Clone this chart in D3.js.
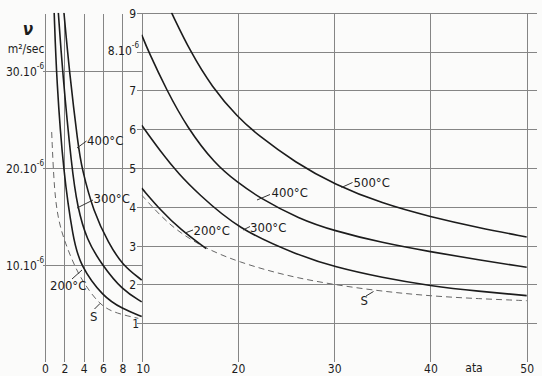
<!DOCTYPE html>
<meta charset="utf-8">
<body style="margin:0">
<style>
  svg { display: block; background: #fbfbfa; }
  .grid { stroke: #858585; stroke-width: 1px; shape-rendering: crispEdges; }
  .curve { fill: none; stroke: #1c1c1c; stroke-width: 1.6px; }
  .sat { fill: none; stroke: #666; stroke-width: 1px; stroke-dasharray: 6,4; }
  .lead { stroke: #333; stroke-width: 1px; }
  text { font-family: "Liberation Sans Narrow", "DejaVu Sans Condensed", "Liberation Sans", sans-serif; fill: #1c1c1c; }
  .tick text { font-size: 12px; }
</style>
<script src="https://d3js.org/d3.v7.min.js"></script>
<script>
// pressure ticks, ata
var leftPress = [0, 2, 4, 6, 8, 10];
var rightPress = [10, 20, 30, 40, 50];
// kinematic viscosity ticks, 10^-6 m2/sec
var leftNu = [10, 20, 30];
var rightNu = [1, 2, 3, 4, 5, 6, 7, 8, 9];

// left panel (0-10 ata), [ata, nu*10^6]
var t200L = [[0.95, 36], [1.2, 29], [1.9, 19.5], [2.93, 12.6], [3.62, 10], [6, 6.7], [8, 5.5], [10, 4.68]];
var t300L = [[1.38, 36], [1.8, 30], [2.76, 20], [3.35, 16], [4.3, 12.6], [5.9, 10], [8, 7.4], [10, 6.2]];
var t400L = [[1.96, 36], [2.51, 30], [3.44, 22.2], [3.8, 20], [5, 15.5], [6.6, 12.2], [8, 10], [10, 8.45]];
var satL = [[0.69, 23.7], [0.96, 17.5], [1.4, 14.5], [2.07, 12.3], [3.1, 9.8], [3.96, 8.2], [5.69, 5.8], [7.41, 5.0], [9.65, 4.5]];

// right panel (10-50 ata)
var t200R = [[10, 4.48], [12, 3.9], [14, 3.42], [16.7, 2.92]];
var t300R = [[10, 6.1], [11.9, 5.44], [14, 4.8], [15.7, 4.38], [20, 3.42], [26.4, 2.74], [30, 2.45], [35, 2.17], [40, 1.96], [45, 1.82], [50, 1.71]];
var t400R = [[10, 8.43], [10.7, 8], [12.6, 7], [14.7, 6.05], [17.6, 5.1], [20, 4.62], [22.1, 4.25], [26.4, 3.68], [30, 3.38], [35, 3.07], [40, 2.84], [45, 2.63], [50, 2.44]];
var t500R = [[13.1, 9], [15, 8.02], [17.3, 7.08], [20, 6.3], [22, 5.86], [26, 5.13], [30, 4.58], [35, 4.08], [40, 3.74], [45, 3.46], [50, 3.22]];
var satR = [[10, 4.3], [12, 3.75], [14, 3.32], [16.7, 2.92], [20, 2.58], [25, 2.22], [30, 1.99], [35, 1.82], [40, 1.7], [45, 1.63], [50, 1.58]];

var width = 542, height = 376;
var svg = d3.select("body").append("svg").attr("width", width).attr("height", height);

// both panels share the zero line; the left one is 4x compressed in nu
var xL = d3.scaleLinear().domain([0, 10]).range([45, 141.7]);
var yL = d3.scaleLinear().domain([0, 36]).range([362, 12.7]);
var xR = d3.scaleLinear().domain([10, 50]).range([141.7, 526.7]);
var yR = d3.scaleLinear().domain([0, 9]).range([362, 12.7]);

// grid
svg.append("g").selectAll("line").data(leftPress).join("line").attr("class", "grid")
  .attr("x1", d => Math.round(xL(d)) + 0.5).attr("x2", d => Math.round(xL(d)) + 0.5)
  .attr("y1", yL(36) + 1).attr("y2", yL(0));
svg.append("g").selectAll("line").data(leftNu).join("line").attr("class", "grid")
  .attr("x1", xL(0) - 2).attr("x2", xL(10))
  .attr("y1", d => Math.round(yL(d)) + 0.5).attr("y2", d => Math.round(yL(d)) + 0.5);
svg.append("g").selectAll("line").data(rightPress).join("line").attr("class", "grid")
  .attr("x1", d => Math.round(xR(d)) + 0.5).attr("x2", d => Math.round(xR(d)) + 0.5)
  .attr("y1", yR(9)).attr("y2", yR(0));
svg.append("g").selectAll("line").data(rightNu).join("line").attr("class", "grid")
  .attr("x1", xR(10) - 5).attr("x2", xR(50) + 10)
  .attr("y1", d => Math.round(yR(d)) + 0.5).attr("y2", d => Math.round(yR(d)) + 0.5);

// bottom axes (labels only)
var axL = svg.append("g").attr("transform", "translate(0," + yL(0) + ")")
  .call(d3.axisBottom(xL).tickValues(leftPress.slice(0, 5)).tickSize(0).tickPadding(2));
var axR = svg.append("g").attr("transform", "translate(0," + yR(0) + ")")
  .call(d3.axisBottom(xR).tickValues(rightPress).tickSize(0).tickPadding(2));
axL.select(".domain").remove();
axR.select(".domain").remove();
axR.selectAll("text").filter(d => d === 10).attr("dx", 1);
svg.append("text").attr("x", 474).attr("y", 372).attr("text-anchor", "middle")
  .style("font-size", "12px").text("ata");

// right-panel nu labels
var rl = svg.append("g").style("font-size", "12px").selectAll("text").data(rightNu).join("text")
  .attr("x", d => d === 8 ? 139 : (d === 1 ? 139 : 136))
  .attr("y", d => yR(d) + (d === 8 ? 3 : 5))
  .attr("text-anchor", "end")
  .text(d => d === 8 ? "8.10" : d);
rl.filter(d => d === 8).append("tspan").attr("dy", -7).style("font-size", "8px").text("-6");

// left-panel nu labels
var ll = svg.append("g").style("font-size", "12px").selectAll("text").data(leftNu).join("text")
  .attr("x", 44).attr("y", d => yL(d) + 5).attr("text-anchor", "end")
  .text(d => d + ".10");
ll.append("tspan").attr("dy", -7).style("font-size", "8px").text("-6");

svg.append("text").attr("x", 28).attr("y", 35).attr("text-anchor", "middle")
  .style("font-size", "17px").style("font-style", "italic").style("font-weight", "bold").text("ν");
svg.append("text").attr("x", 26).attr("y", 53).attr("text-anchor", "middle")
  .style("font-size", "12px").text("m²/sec");

// clipping for curves
var defs = svg.append("defs");
defs.append("clipPath").attr("id", "clipL").append("rect")
  .attr("x", xL(0)).attr("y", yL(36)).attr("width", xL(10) - xL(0) + 1).attr("height", yL(0) - yL(36));
defs.append("clipPath").attr("id", "clipR").append("rect")
  .attr("x", xR(10)).attr("y", yR(9)).attr("width", xR(50) - xR(10) + 1).attr("height", yR(0) - yR(9));

var lineL = d3.line().x(d => xL(d[0])).y(d => yL(d[1])).curve(d3.curveBasis);
var lineR = d3.line().x(d => xR(d[0])).y(d => yR(d[1])).curve(d3.curveBasis);

var gL = svg.append("g").attr("clip-path", "url(#clipL)");
gL.append("path").datum(satL).attr("class", "sat").attr("d", lineL);
[t200L, t300L, t400L].forEach(function(s) {
  gL.append("path").datum(s).attr("class", "curve").attr("d", lineL);
});
var gR = svg.append("g").attr("clip-path", "url(#clipR)");
gR.append("path").datum(satR).attr("class", "sat").attr("d", lineR);
[t200R, t300R, t400R, t500R].forEach(function(s) {
  gR.append("path").datum(s).attr("class", "curve").attr("d", lineR);
});

// curve labels with leader lines
var labels = [
  {t: "400°C", x: 87, y: 145, l: [77, 148, 86.5, 141]},
  {t: "300°C", x: 93.5, y: 203, l: [77, 208, 93, 200]},
  {t: "200°C", x: 50, y: 290, l: [72, 279, 82, 270]},
  {t: "S", x: 90, y: 321, l: [94.5, 309, 100, 303.5]},
  {t: "400°C", x: 271.5, y: 197, l: [257, 200, 270, 194.5]},
  {t: "300°C", x: 250, y: 231.5, l: [243, 230, 250, 226.5]},
  {t: "200°C", x: 193.5, y: 235, l: [185, 233, 193, 230]},
  {t: "500°C", x: 353.5, y: 186.5, l: [341.5, 187.5, 352.5, 182.5]},
  {t: "S", x: 360.5, y: 305, l: [366, 296, 373.5, 291.5]}
];
var lg = svg.append("g");
lg.selectAll("line").data(labels).join("line").attr("class", "lead")
  .attr("x1", d => d.l[0]).attr("y1", d => d.l[1]).attr("x2", d => d.l[2]).attr("y2", d => d.l[3]);
lg.selectAll("text").data(labels).join("text")
  .attr("x", d => d.x).attr("y", d => d.y).style("font-size", "13px").text(d => d.t);
</script>
